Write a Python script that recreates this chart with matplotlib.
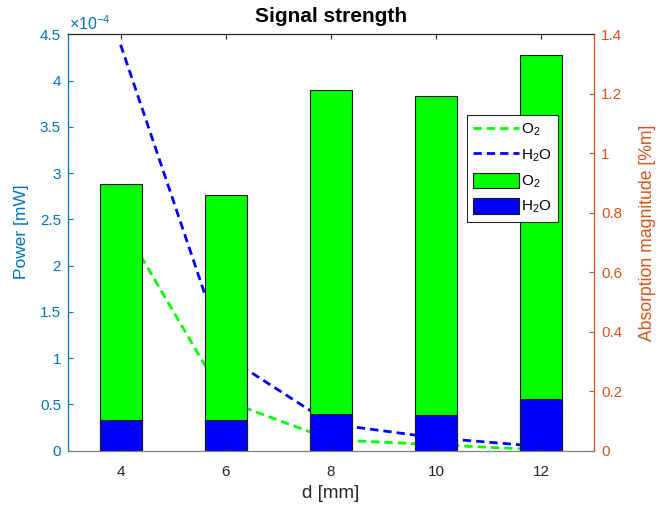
import matplotlib
matplotlib.use("Agg")
import matplotlib.pyplot as plt
from matplotlib.ticker import FuncFormatter, MultipleLocator
from matplotlib.lines import Line2D
from matplotlib.patches import Patch

plt.rcParams['font.family'] = ['Liberation Sans', 'DejaVu Sans']
plt.rcParams['mathtext.fontset'] = 'custom'
plt.rcParams['mathtext.rm'] = 'Liberation Sans'
plt.rcParams['mathtext.it'] = 'Liberation Sans:italic'

# distance between sensor elements
d_mm = [4, 6, 8, 10, 12]

# received power [mW]
o2_power = [2.886e-4, 2.764e-4, 3.899e-4, 3.838e-4, 4.281e-4]
h2o_power = [0.329e-4, 0.329e-4, 0.394e-4, 0.383e-4, 0.559e-4]

# absorption magnitude [%m]
o2_absorption = [0.770, 0.168, 0.037, 0.020, 0.003]
h2o_absorption = [1.365, 0.318, 0.090, 0.043, 0.014]

C_LEFT = '#0072BD'
C_RIGHT = '#D95319'
C_AX = '#262626'

fig = plt.figure(figsize=(6.57, 5.08), dpi=100)
ax1 = fig.add_axes([68 / 657, 1 - 450.7 / 508, (594 - 68) / 657, (450.7 - 34.3) / 508])
ax2 = ax1.twinx()

# bars in front of the absorption curves
ax1.set_zorder(ax2.get_zorder() + 1)
ax1.patch.set_visible(False)

ax1.bar(d_mm, o2_power, width=0.8, color='#00FF00', edgecolor='#1a1a1a', linewidth=0.8)
ax1.bar(d_mm, h2o_power, width=0.8, color='#0000FF', edgecolor='#1a1a1a', linewidth=0.8)

ax2.plot(d_mm, o2_absorption, color='#00FF00', lw=2, dashes=(3, 1.8))
ax2.plot(d_mm, h2o_absorption, color='#0000FF', lw=2, dashes=(3, 1.8))

ax1.set_xlim(3, 13)
ax1.set_ylim(0, 4.5e-4)
ax2.set_ylim(0, 1.4)
ax1.set_xticks(d_mm)
ax1.yaxis.set_major_locator(MultipleLocator(0.5e-4))
ax1.yaxis.set_major_formatter(FuncFormatter(lambda v, p: f"{v / 1e-4:g}"))
ax2.yaxis.set_major_locator(MultipleLocator(0.2))
ax2.yaxis.set_major_formatter(FuncFormatter(lambda v, p: f"{v:g}"))

# spines
ax1.spines['right'].set_visible(False)
ax2.spines['left'].set_visible(False)
ax2.spines['top'].set_visible(False)
ax2.spines['bottom'].set_visible(False)
ax1.spines['left'].set_color(C_LEFT)
ax2.spines['right'].set_color(C_RIGHT)
ax1.spines['top'].set_color(C_AX)
ax1.spines['bottom'].set_color('#808080')
for sp in list(ax1.spines.values()) + list(ax2.spines.values()):
    sp.set_linewidth(0.9)

ax1.tick_params(axis='x', direction='in', top=True, length=3.6, width=0.8,
                colors=C_AX, labelsize=11, pad=10)
ax1.tick_params(axis='y', direction='in', length=3.6, width=0.8,
                colors=C_LEFT, labelsize=11, pad=5)
ax2.tick_params(axis='y', direction='in', length=3.6, width=0.8,
                colors=C_RIGHT, labelsize=11, pad=5)
ax2.tick_params(axis='x', bottom=False, top=False, labelbottom=False)

ax1.set_xlabel('d [mm]', fontsize=13.5, color=C_AX)
ax1.xaxis.set_label_coords(0.5, -(493 - 450.7) / 416.4, transform=ax1.transAxes)
ax1.xaxis.label.set_va('center')
ax1.set_ylabel('Power [mW]', fontsize=12.5, color=C_LEFT)
ax1.yaxis.set_label_coords((21.5 - 68) / 526, (450.7 - 232) / 416.4)
ax1.yaxis.label.set_va('center')
ax2.set_ylabel('Absorption magnitude [%m]', fontsize=12.7, color=C_RIGHT)
ax2.yaxis.set_label_coords((647 - 68) / 526, (450.7 - 233) / 416.4)
ax2.yaxis.label.set_va('center')

fig.text(331.5 / 657, 1 - 16.7 / 508, 'Signal strength', ha='center', va='center',
         fontsize=15, fontweight='bold', color='black')
fig.text(69 / 657, 1 - 24 / 508, r'$\times10^{-4}$', ha='left', va='center',
         fontsize=11.5, color=C_LEFT)

handles = [
    Line2D([], [], color='#00FF00', lw=2, dashes=(3, 1.8)),
    Line2D([], [], color='#0000FF', lw=2, dashes=(3, 1.8)),
    Patch(facecolor='#00FF00', edgecolor='#1a1a1a', linewidth=0.8),
    Patch(facecolor='#0000FF', edgecolor='#1a1a1a', linewidth=0.8),
]
labels = [r'O$_2$', r'H$_2$O', r'O$_2$', r'H$_2$O']
leg = ax1.legend(handles, labels, loc='upper left',
                 bbox_to_anchor=(466.7 / 657, 1 - 115 / 508), bbox_transform=fig.transFigure,
                 borderaxespad=0, fontsize=11, handlelength=3.0, handleheight=1.18,
                 labelspacing=0.55, handletextpad=0.15, borderpad=0.4,
                 fancybox=False, framealpha=1, edgecolor='#262626')
leg.get_frame().set_linewidth(0.8)

fig.savefig('out.png', dpi=100)
